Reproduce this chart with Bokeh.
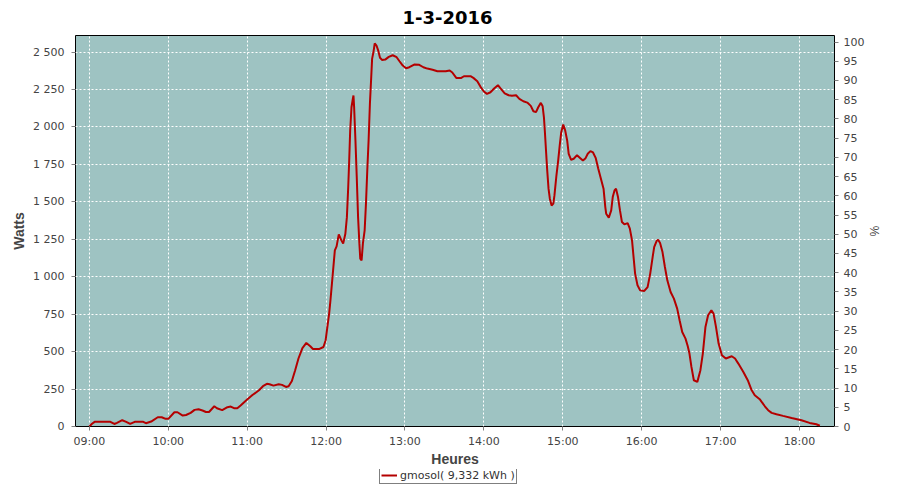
import pandas as pd
from bokeh.plotting import figure
from bokeh.layouts import column
from bokeh.models import (Range1d, LinearAxis, SingleIntervalTicker, FixedTicker,
                          DatetimeTickFormatter, CustomJSTickFormatter, Legend,
                          LegendItem)
from bokeh.embed import file_html
from bokeh.resources import INLINE

DAY = "2016-03-01"
title_text = "1-3-2016"
series_label = "gmosol( 9,332 kWh )"
x_label = "Heures"
y_label = "Watts"
y2_label = "%"
hour_ticks = ["09:00", "10:00", "11:00", "12:00", "13:00", "14:00",
              "15:00", "16:00", "17:00", "18:00"]

times = [
    "09:00:00", "09:02:00", "09:04:00", "09:16:00", "09:19:00", "09:21:00", "09:25:00",
    "09:28:00", "09:31:00", "09:34:30", "09:41:00", "09:43:00", "09:47:00", "09:52:00",
    "09:55:00", "09:58:00", "10:00:00", "10:04:40", "10:07:00", "10:11:00", "10:13:30",
    "10:17:00", "10:20:00", "10:23:00", "10:26:00", "10:28:40", "10:31:00", "10:35:00",
    "10:37:00", "10:41:00", "10:45:00", "10:47:30", "10:50:00", "10:52:30", "10:55:00",
    "11:00:00", "11:04:00", "11:09:00", "11:12:00", "11:15:00", "11:17:00", "11:20:00",
    "11:24:00", "11:26:30", "11:29:30", "11:31:30", "11:34:00", "11:36:30", "11:39:00",
    "11:42:00", "11:45:00", "11:48:00", "11:50:00", "11:55:00", "11:58:00", "11:59:40",
    "12:01:00", "12:02:20", "12:03:20", "12:04:40", "12:06:00", "12:06:40", "12:08:00",
    "12:09:40", "12:11:40", "12:13:00", "12:14:40", "12:15:50", "12:16:50", "12:17:30",
    "12:18:20", "12:19:20", "12:20:20", "12:20:50", "12:21:20", "12:22:20", "12:23:20",
    "12:24:20", "12:25:20", "12:26:00", "12:27:00", "12:28:00", "12:29:20", "12:30:20",
    "12:31:20", "12:32:20", "12:33:20", "12:34:20", "12:35:00", "12:36:00", "12:37:00",
    "12:38:20", "12:39:40", "12:41:00", "12:42:40", "12:45:00", "12:47:40", "12:50:40",
    "12:53:40", "12:55:50", "12:58:20", "13:00:50", "13:03:20", "13:07:00", "13:10:50",
    "13:14:00", "13:17:00", "13:21:00", "13:24:40", "13:31:00", "13:34:00", "13:36:00",
    "13:39:00", "13:42:50", "13:44:50", "13:49:50", "13:52:00", "13:55:00", "13:57:20",
    "14:00:00", "14:02:20", "14:05:00", "14:08:00", "14:10:40", "14:12:30", "14:15:50",
    "14:18:50", "14:21:20", "14:24:30", "14:27:00", "14:30:00", "14:33:00", "14:35:40",
    "14:37:40", "14:39:40", "14:41:20", "14:43:20", "14:44:40", "14:45:40", "14:46:20",
    "14:47:10", "14:48:10", "14:49:10", "14:50:10", "14:51:30", "14:52:50", "14:53:40",
    "14:55:10", "14:56:30", "14:57:40", "14:58:50", "15:00:20", "15:01:50", "15:03:20",
    "15:04:30", "15:06:20", "15:08:20", "15:10:50", "15:13:20", "15:15:20", "15:17:20",
    "15:19:00", "15:21:00", "15:23:00", "15:25:00", "15:27:00", "15:29:00", "15:31:00",
    "15:32:20", "15:33:00", "15:35:00", "15:36:50", "15:38:00", "15:39:20", "15:40:30",
    "15:42:00", "15:43:30", "15:45:00", "15:46:50", "15:49:20", "15:51:00", "15:52:40",
    "15:53:50", "15:55:00", "15:56:50", "15:58:50", "16:02:00", "16:04:30", "16:06:30",
    "16:08:20", "16:09:30", "16:11:20", "16:12:30", "16:14:00", "16:15:50", "16:17:40",
    "16:19:30", "16:22:00", "16:24:30", "16:27:00", "16:28:50", "16:30:50", "16:33:20",
    "16:35:00", "16:36:20", "16:37:50", "16:39:40", "16:42:20", "16:44:40", "16:46:30",
    "16:48:30", "16:50:30", "16:53:00", "16:54:40", "16:56:30", "16:58:30", "17:01:00",
    "17:04:00", "17:08:30", "17:11:00", "17:13:30", "17:17:20", "17:20:40", "17:23:40",
    "17:26:00", "17:30:00", "17:33:40", "17:36:10", "17:38:50", "17:42:30", "17:47:30",
    "17:54:00", "18:01:30", "18:07:40", "18:12:50", "18:15:30",
]

watts = [
    0, 18, 31, 31, 17, 24, 42,
    31, 17, 31, 31, 22, 33, 62,
    62, 51, 51, 95, 95, 73, 77,
    91, 111, 115, 107, 97, 97, 135,
    122, 109, 129, 133, 122, 122, 140,
    180, 210, 242, 269, 285, 282, 273,
    282, 278, 264, 269, 304, 376, 454,
    524, 558, 536, 518, 518, 531, 576,
    665, 754, 843, 976, 1109, 1176, 1203,
    1283, 1243, 1221, 1287, 1398, 1598, 1754,
    1977, 2132, 2188, 2210, 2132, 1910, 1665,
    1398, 1221, 1121, 1109, 1221, 1310, 1488,
    1710, 1910, 2155, 2332, 2455, 2499, 2559,
    2544, 2510, 2462, 2448, 2450, 2468, 2479,
    2466, 2439, 2410, 2392, 2399, 2417, 2415,
    2399, 2390, 2382, 2372, 2372, 2377, 2364,
    2328, 2328, 2339, 2339, 2328, 2306, 2270,
    2237, 2221, 2232, 2259, 2279, 2259, 2225,
    2212, 2208, 2212, 2188, 2172, 2163, 2141,
    2105, 2099, 2132, 2161, 2139, 2065, 1977,
    1855, 1710, 1588, 1521, 1476, 1488, 1543,
    1676, 1776, 1876, 1965, 2016, 1977, 1910,
    1821, 1781, 1788, 1812, 1792, 1776, 1792,
    1821, 1839, 1830, 1794, 1721, 1654, 1588,
    1465, 1421, 1394, 1443, 1532, 1576, 1588,
    1532, 1443, 1365, 1350, 1358, 1321, 1243,
    1131, 1021, 943, 909, 905, 931, 1021,
    1131, 1198, 1238, 1247, 1225, 1165, 1065,
    976, 898, 854, 787, 709, 631, 587,
    538, 487, 398, 309, 298, 376, 487,
    665, 743, 776, 754, 665, 554, 476,
    454, 469, 454, 420, 364, 309, 242,
    209, 180, 135, 109, 91, 82, 71,
    57, 42, 24, 15, 5,
]

x_start = pd.Timestamp(f"{DAY} 08:49:27")
x_end = pd.Timestamp(f"{DAY} 18:26:38")
y_max = 2611
pct_max = 101.7

xs = pd.to_datetime([f"{DAY} {t}" for t in times])
tick_ms = [pd.Timestamp(f"{DAY} {h}").value / 1e6 for h in hour_ticks]

TICK_FONT = "DejaVu Sans"
LABEL_FONT = "Liberation Sans"
LINE_COLOR = "#b40000"

p = figure(width=884, height=469, x_axis_type="datetime",
           x_range=Range1d(x_start, x_end), y_range=Range1d(0, y_max),
           output_backend="svg", toolbar_location=None,
           min_border_left=75, min_border_right=44, min_border_top=35,
           min_border_bottom=38)

p.background_fill_color = "#9ec3c2"
p.border_fill_color = "white"
p.outline_line_color = "black"
p.outline_line_width = 1

# Title
p.title.text = title_text
p.title.align = "left"
p.title.offset = 327
p.title.standoff = 19
p.title.vertical_align = "top"
p.title.text_font = TICK_FONT
p.title.text_font_size = "18px"
p.title.text_font_style = "bold"
p.title.text_color = "black"

r = p.line(xs, watts, line_color=LINE_COLOR, line_width=2)

# X axis
xa = p.xaxis[0]
xa.ticker = FixedTicker(ticks=tick_ms)
xa.formatter = DatetimeTickFormatter(hours="%H:%M", hourmin="%H:%M",
                                     minutes="%H:%M", days="%H:%M")
xa.axis_label = x_label

# Left axis
ya = p.yaxis[0]
ya.ticker = SingleIntervalTicker(interval=250, num_minor_ticks=0)
ya.formatter = CustomJSTickFormatter(
    code="return Math.round(tick).toString().replace(/\\B(?=(\\d{3})+(?!\\d))/g, ' ');")
ya.axis_label = y_label

# Right axis
p.extra_y_ranges = {"pct": Range1d(0, pct_max)}
ra = LinearAxis(y_range_name="pct",
                ticker=SingleIntervalTicker(interval=5, num_minor_ticks=0),
                axis_label=y2_label)
p.add_layout(ra, "right")

for ax in (xa, ya, ra):
    ax.axis_line_color = None
    ax.major_tick_line_color = "#808080"
    ax.major_tick_in = 0
    ax.major_tick_out = 4
    ax.minor_tick_line_color = None
    ax.major_label_text_font = TICK_FONT
    ax.major_label_text_font_size = "11px"
    ax.major_label_text_color = "#444444"
    ax.axis_label_text_font = LABEL_FONT
    ax.axis_label_text_font_size = "14px"
    ax.axis_label_text_font_style = "bold"
    ax.axis_label_text_color = "#444444"

xa.major_label_standoff = 4
xa.axis_label_standoff = 0
ya.major_label_standoff = 7
ya.axis_label_standoff = 3
ra.major_label_standoff = 5
ra.axis_label_standoff = 0
ra.axis_label_text_font_style = "normal"
ra.axis_label_text_font_size = "12px"

# Grid
for g in (p.xgrid[0], p.ygrid[0]):
    g.grid_line_color = "white"
    g.grid_line_dash = "2 2"
    g.grid_line_width = 1
p.xgrid[0].ticker = xa.ticker
p.ygrid[0].ticker = ya.ticker

# Legend strip below the chart (same series, off-range so only the key shows)
leg = figure(width=884, height=15, x_axis_type="datetime",
             x_range=Range1d(x_start, x_end), y_range=Range1d(-2 * y_max, -y_max),
             output_backend="svg", toolbar_location=None,
             x_axis_location=None, y_axis_location=None,
             min_border_left=0, min_border_right=0, min_border_top=0,
             min_border_bottom=0)
leg.outline_line_color = None
leg.background_fill_color = "white"
leg.border_fill_color = "white"
leg.xgrid.visible = False
leg.ygrid.visible = False
r2 = leg.line(xs, watts, line_color=LINE_COLOR, line_width=2)

legend = Legend(items=[LegendItem(label=series_label, renderers=[r2])],
                location=(304, 0.5), orientation="horizontal",
                border_line_color="black", border_line_width=1,
                background_fill_color="white", background_fill_alpha=1,
                padding=1, spacing=0, margin=0, label_standoff=3,
                glyph_width=16, glyph_height=12, label_height=12,
                label_text_font=TICK_FONT, label_text_font_size="11px",
                label_text_color="#333333")
leg.add_layout(legend, "center")

layout = column(p, leg, spacing=0)
open("out.html", "w").write(file_html(layout, INLINE))
